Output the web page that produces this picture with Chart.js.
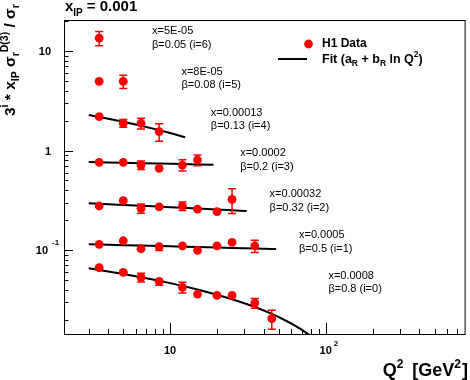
<!DOCTYPE html>
<html><head><meta charset="utf-8">
<script src="https://cdn.jsdelivr.net/npm/chart.js@4/dist/chart.umd.min.js"></script>
<style>html,body{margin:0;padding:0;background:#fff}#c{display:block}</style>
</head><body><canvas id="c" width="470" height="380"></canvas>
<script>
// ---- data ----
const Q2 = [3.5, 5, 6.5, 8.5, 12, 15, 20, 25, 35, 45];
const seriesI = [6, 5, 4, 3, 2, 1, 0];
const xBj  = ['5E-05', '8E-05', '0.00013', '0.0002', '0.00032', '0.0005', '0.0008'];
const beta = ['0.05', '0.08', '0.13', '0.2', '0.32', '0.5', '0.8'];

const val6 = [13.5];
const err6 = [2.2];
const val5 = [4.96, 4.96];
const err5 = [0.15, 0.75];
const val4 = [2.19, 1.88, 1.88, 1.55];
const err4 = [0.08, 0.17, 0.23, 0.31];
const val3 = [0.761, 0.761, 0.715, 0.663, 0.715, 0.803];
const err3 = [0.02, 0.02, 0.07, 0.03, 0.093, 0.099];
const val2 = [0.277, 0.313, 0.2625, 0.272, 0.277, 0.258, 0.243, 0.323];
const err2 = [0.008, 0.009, 0.028, 0.019, 0.027, 0.008, 0.017, 0.09];
const val1 = [0.114, 0.124, 0.103, 0.108, 0.110, 0.0993, 0.110, 0.1195, 0.110];
const err1 = [0.003, 0.003, 0.003, 0.009, 0.008, 0.003, 0.003, 0.004, 0.0154];
const val0 = [0.0664, 0.0597, 0.0532, 0.0485, 0.0422, 0.0361, 0.0350, 0.0350, 0.0293, 0.0204];
const err0 = [0.0015, 0.0015, 0.0054, 0.0042, 0.0052, 0.0012, 0.0012, 0.0012, 0.0033, 0.0044];

// fit  a_R + b_R ln Q^2  (parameters)
const fitA  = [null, null, 2.98, 0.793, 0.317, 0.1187, 0.0828];
const fitB  = [null, null, -0.643, -0.025, -0.0205, -0.00424, -0.01576];
const fitLo = [null, null, 3, 3, 3, 3, 3];
const fitHi = [null, null, 12.5, 19, 31, 48, 80];
const fitGrid = [3, 4, 5, 6.5, 8.5, 10, 12, 15, 20, 25, 30, 35, 40, 45, 50, 60, 70, 80];

const xTickValues = [10, 100];
const xTickLabels = ['10', '10^2'];
const yTickValues = [0.1, 1, 10];
const yTickLabels = ['10^-1', '1', '10'];

const vals = [val6, val5, val4, val3, val2, val1, val0];
const errs = [err6, err5, err4, err3, err2, err1, err0];

// ---- build datasets ----
const RED = '#ff0000';
const FONT = '"Liberation Sans", Arial, Helvetica, sans-serif';
const datasets = [];
vals.forEach((v, s) => {
  datasets.push({
    label: 'i=' + seriesI[s],
    data: v.map((y, k) => ({ x: Q2[k], y })),
    errors: errs[s],
    pointRadius: 4.4, pointHoverRadius: 4.4,
    pointBackgroundColor: RED, pointBorderWidth: 0, pointBorderColor: RED,
    showLine: false, order: 1
  });
  if (fitA[s] !== null) {
    const qs = [fitLo[s]].concat(fitGrid.filter(q => q > fitLo[s] && q < fitHi[s]), [fitHi[s]]);
    datasets.push({
      label: 'fit i=' + seriesI[s],
      data: qs.map(q => ({ x: q, y: fitA[s] + fitB[s] * Math.log(q) })),
      showLine: true, borderColor: '#000', borderWidth: 2, pointRadius: 0,
      fill: false, tension: 0, order: 2
    });
  }
});

function setFont(ctx, size, bold) { ctx.font = (bold ? 'bold ' : '') + size + 'px ' + FONT; }
function drawRich(ctx, parts, x, y, measureOnly) {
  let cx = x;
  for (const p of parts) {
    setFont(ctx, p.size, p.bold !== false);
    if (!measureOnly) ctx.fillText(p.t, cx, y + (p.dy || 0));
    cx += ctx.measureText(p.t).width + (p.gap || 0);
  }
  return cx - x;
}

const errorBars = {
  id: 'errorBars',
  beforeDatasetDraw(chart, args) {
    const ds = chart.data.datasets[args.index];
    if (!ds.errors) return;
    const { ctx, chartArea: a, scales: { x, y } } = chart;
    ctx.save();
    ctx.beginPath(); ctx.rect(a.left, a.top, a.right - a.left, a.bottom - a.top); ctx.clip();
    ctx.strokeStyle = RED; ctx.lineWidth = 1.5;
    ds.data.forEach((p, k) => {
      const e = ds.errors[k];
      const px = x.getPixelForValue(p.x), py = y.getPixelForValue(p.y);
      const pt = y.getPixelForValue(p.y + e), pb = y.getPixelForValue(Math.max(p.y - e, 1e-6));
      if (py - pt > 3.6) {
        ctx.beginPath(); ctx.moveTo(px, py); ctx.lineTo(px, pt);
        ctx.moveTo(px - 4, pt); ctx.lineTo(px + 4, pt); ctx.stroke();
      }
      if (pb - py > 3.6) {
        ctx.beginPath(); ctx.moveTo(px, py); ctx.lineTo(px, pb);
        ctx.moveTo(px - 4, pb); ctx.lineTo(px + 4, pb); ctx.stroke();
      }
    });
    ctx.restore();
  }
};

const decor = {
  id: 'decor',
  afterDraw(chart) {
    const { ctx, chartArea: a, scales: { x, y } } = chart;
    ctx.save();
    ctx.fillStyle = '#000'; ctx.strokeStyle = '#000';
    // frame
    ctx.lineWidth = 1;
    ctx.strokeRect(a.left + 0.5, a.top + 0.5, a.right - a.left - 1, a.bottom - a.top - 1);
    // x ticks (inside, bottom)
    const xmin = x.min, xmax = x.max;
    for (let d = 1; d <= 1000; d *= 10) {
      for (let m = 1; m <= 9; m++) {
        const v = d * m; if (v < xmin || v > xmax) continue;
        const px = Math.round(x.getPixelForValue(v)) + 0.5;
        const len = m === 1 ? 12 : 6;
        ctx.beginPath(); ctx.moveTo(px, a.bottom); ctx.lineTo(px, a.bottom - len); ctx.stroke();
      }
    }
    // y ticks (inside, left)
    for (let d = 0.01; d <= 100; d *= 10) {
      for (let m = 1; m <= 9; m++) {
        const v = d * m; if (v < y.min || v > y.max) continue;
        const py = Math.round(y.getPixelForValue(v)) + 0.5;
        const len = m === 1 ? 9 : 4.5;
        ctx.beginPath(); ctx.moveTo(a.left, py); ctx.lineTo(a.left + len, py); ctx.stroke();
      }
    }
    // x tick labels
    ctx.textBaseline = 'middle';
    xTickValues.forEach((v, k) => {
      const [b, e] = xTickLabels[k].split('^');
      const px = x.getPixelForValue(v);
      setFont(ctx, 11, true);
      ctx.textAlign = 'center';
      ctx.fillText(b, px, 351);
      if (e) {
        const w = ctx.measureText(b).width;
        setFont(ctx, 8, true); ctx.textAlign = 'left';
        ctx.fillText(e, px + w / 2 + 2, 344);
      }
    });
    // y tick labels
    yTickValues.forEach((v, k) => {
      const [b, e] = yTickLabels[k].split('^');
      const py = y.getPixelForValue(v);
      setFont(ctx, 11, true);
      if (e) {
        ctx.textAlign = 'right'; ctx.fillText(b, 48, py + 1);
        setFont(ctx, 8, true); ctx.textAlign = 'left'; ctx.fillText(e, 52, py - 7);
      } else {
        ctx.textAlign = 'right'; ctx.fillText(b, 51, py + 1);
      }
    });
    // title
    ctx.textAlign = 'left'; ctx.textBaseline = 'alphabetic';
    drawRich(ctx, [
      { t: 'x', size: 15 }, { t: 'IP', size: 10, dy: 5, gap: 4 }, { t: '= 0.001', size: 15 }
    ], 65, 11);
    // x axis title (right aligned)
    const xt = [
      { t: 'Q', size: 18 }, { t: '2', size: 12, dy: -8, gap: 9 }, { t: '[GeV', size: 18 },
      { t: '2', size: 12, dy: -8, gap: 1 }, { t: ']', size: 18 }
    ];
    const xw = drawRich(ctx, xt, 0, 0, true);
    drawRich(ctx, xt, 468 - xw, 376);
    // y axis title (rotated, reading upwards from the bottom end)
    const yt = [
      { t: '3', size: 15.5 }, { t: 'i', size: 10.5, dy: -7 }, { t: ' * x', size: 15.5 },
      { t: 'IP', size: 10.5, dy: 4 }, { t: ' \u03c3', size: 15.5 }, { t: 'r', size: 10.5, dy: 4 },
      { t: 'D(3)', size: 10.5, dy: -7 }, { t: ' / \u03c3', size: 15.5 }, { t: 'r', size: 10.5, dy: 4 }
    ];
    ctx.save(); ctx.translate(15, 116); ctx.rotate(-Math.PI / 2);
    drawRich(ctx, yt, 0, 0); ctx.restore();
    // bin annotations
    ctx.textBaseline = 'middle';
    seriesI.forEach((i, k) => {
      const lx = 152 + 29.4 * k, ly = 31 + 40.8 * k;
      setFont(ctx, 11, false);
      ctx.fillText('x=' + xBj[k], lx, ly);
      ctx.fillText('\u03b2=' + beta[k] + ' (i=' + i + ')', lx, ly + 13.5);
    });
    // legend
    ctx.fillStyle = RED;
    ctx.beginPath(); ctx.arc(308.5, 44, 4.4, 0, Math.PI * 2); ctx.fill();
    ctx.strokeStyle = '#000'; ctx.lineWidth = 2;
    ctx.beginPath(); ctx.moveTo(278, 59); ctx.lineTo(307, 59); ctx.stroke();
    ctx.fillStyle = '#000';
    setFont(ctx, 12, true);
    ctx.fillText('H1 Data', 322, 44);
    ctx.textBaseline = 'alphabetic';
    drawRich(ctx, [
      { t: 'Fit (a', size: 12.5 }, { t: 'R', size: 8.5, dy: 3 }, { t: ' + b', size: 12.5 },
      { t: 'R', size: 8.5, dy: 3 }, { t: ' ln Q', size: 12.5 }, { t: '2', size: 8.5, dy: -6 },
      { t: ')', size: 12.5 }
    ], 322, 63);
    ctx.restore();
  }
};

new Chart(document.getElementById('c'), {
  type: 'scatter',
  data: { datasets },
  options: {
    responsive: false, animation: false, devicePixelRatio: 1,
    layout: { padding: { left: 64, top: 20, right: 2, bottom: 45 } },
    plugins: { legend: { display: false }, tooltip: { enabled: false } },
    scales: {
      x: { type: 'logarithmic', min: 2.08, max: 792, display: false },
      y: { type: 'logarithmic', min: 0.014, max: 20.5, display: false }
    }
  },
  plugins: [errorBars, decor]
});
</script>
</body></html>
